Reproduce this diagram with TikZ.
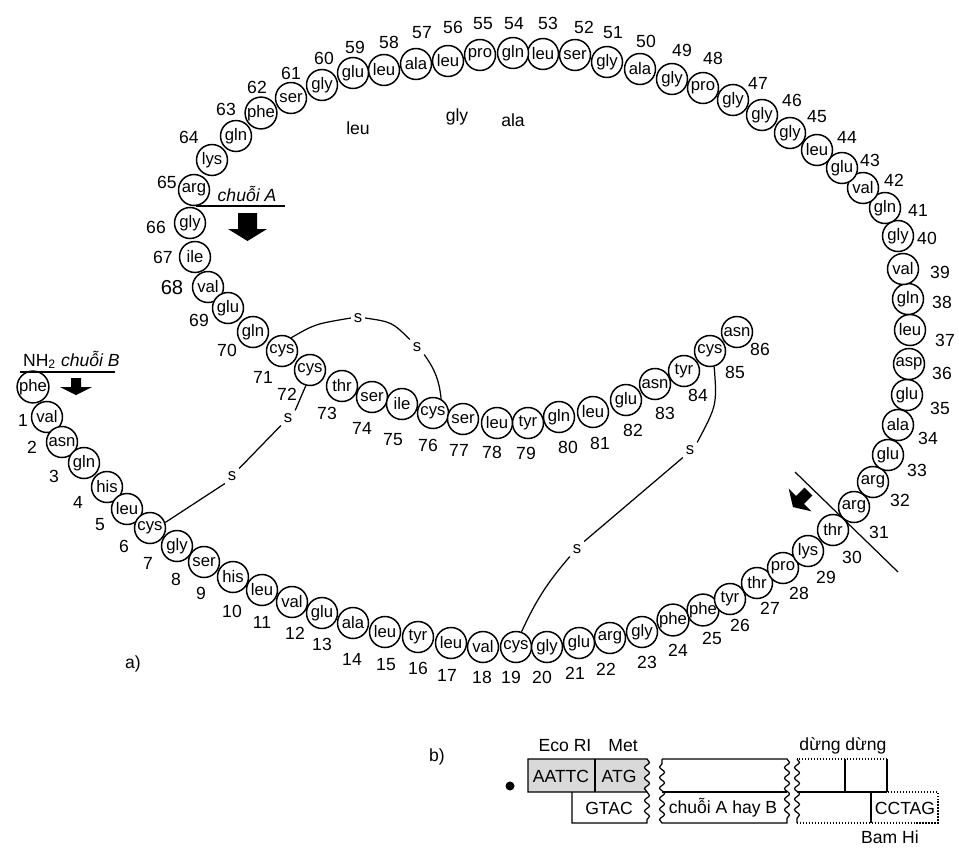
\documentclass[tikz,border=0pt]{standalone}
\usepackage{fontspec}
\setmainfont{Liberation Sans}
\usetikzlibrary{decorations.pathmorphing}

\begin{document}
\begin{tikzpicture}[
    x=0.02cm, y=-0.02cm,
    aa/.style={circle, draw, line width=0.85pt, fill=white, minimum size=0.62cm,
               inner sep=0pt, font=\fontsize{9.5}{10}\selectfont},
    num/.style={inner sep=1pt, font=\fontsize{10}{11}\selectfont},
    sl/.style={inner sep=1.5pt, font=\fontsize{9.5}{10}\selectfont},
    bond/.style={line width=0.7pt},
    cut/.style={line width=0.7pt},
    dbox/.style={line width=0.7pt},
    wavy/.style={decoration={snake, amplitude=1.4pt, segment length=6pt}},
    btxt/.style={inner sep=1pt, font=\fontsize{10}{11}\selectfont}
  ]
    \useasboundingbox (0,0) rectangle (959,852);

    %--- chain B ---
    \node[aa] (r1)  at (33,387)  {phe}; \node[num] (n1)  at (23,420)  {1};
    \node[aa] (r2)  at (47,417)  {val}; \node[num] (n2)  at (32,447)  {2};
    \node[aa] (r3)  at (62,442)  {asn}; \node[num] (n3)  at (54,476)  {3};
    \node[aa] (r4)  at (84,463)  {gln}; \node[num] (n4)  at (78,502)  {4};
    \node[aa] (r5)  at (107,487) {his}; \node[num] (n5)  at (100,525) {5};
    \node[aa] (r6)  at (127,509) {leu}; \node[num] (n6)  at (124,546) {6};
    \node[aa] (r7)  at (150,528) {cys}; \node[num] (n7)  at (148,563) {7};
    \node[aa] (r8)  at (177,546) {gly}; \node[num] (n8)  at (176,579) {8};
    \node[aa] (r9)  at (204,562) {ser}; \node[num] (n9)  at (201,593) {9};
    \node[aa] (r10) at (233,577) {his}; \node[num] (n10) at (232,611) {10};
    \node[aa] (r11) at (262,590) {leu}; \node[num] (n11) at (262,622) {11};
    \node[aa] (r12) at (292,602) {val}; \node[num] (n12) at (295,633) {12};
    \node[aa] (r13) at (322,613) {glu}; \node[num] (n13) at (322,644) {13};
    \node[aa] (r14) at (353,623) {ala}; \node[num] (n14) at (352,659) {14};
    \node[aa] (r15) at (385,632) {leu}; \node[num] (n15) at (386,665) {15};
    \node[aa] (r16) at (418,637) {tyr}; \node[num] (n16) at (418,668) {16};
    \node[aa] (r17) at (451,643) {leu}; \node[num] (n17) at (447,675) {17};
    \node[aa] (r18) at (483,647) {val}; \node[num] (n18) at (482,677) {18};
    \node[aa] (r19) at (516,647) {cys}; \node[num] (n19) at (511,677) {19};
    \node[aa] (r20) at (547,647) {gly}; \node[num] (n20) at (542,677) {20};
    \node[aa] (r21) at (579,643) {glu}; \node[num] (n21) at (575,673) {21};
    \node[aa] (r22) at (610,638) {arg}; \node[num] (n22) at (606,669) {22};
    \node[aa] (r23) at (642,632) {gly}; \node[num] (n23) at (647,662) {23};
    \node[aa] (r24) at (673,620) {phe}; \node[num] (n24) at (678,650) {24};
    \node[aa] (r25) at (703,610) {phe}; \node[num] (n25) at (712,638) {25};
    \node[aa] (r26) at (730,599) {tyr}; \node[num] (n26) at (740,625) {26};
    \node[aa] (r27) at (757,583) {thr}; \node[num] (n27) at (770,608) {27};
    \node[aa] (r28) at (783,568) {pro}; \node[num] (n28) at (799,593) {28};
    \node[aa] (r29) at (808,551) {lys}; \node[num] (n29) at (826,577) {29};
    \node[aa] (r30) at (833,530) {thr}; \node[num] (n30) at (852,557) {30};

    %--- C peptide ---
    \node[aa] (r31) at (854,507) {arg}; \node[num] (n31) at (879,532) {31};
    \node[aa] (r32) at (873,482) {arg}; \node[num] (n32) at (900,500) {32};
    \node[aa] (r33) at (888,455) {glu}; \node[num] (n33) at (917,470) {33};
    \node[aa] (r34) at (898,425) {ala}; \node[num] (n34) at (928,438) {34};
    \node[aa] (r35) at (907,395) {glu}; \node[num] (n35) at (940,408) {35};
    \node[aa] (r36) at (909,364) {asp}; \node[num] (n36) at (942,373) {36};
    \node[aa] (r37) at (910,330) {leu}; \node[num] (n37) at (945,340) {37};
    \node[aa] (r38) at (908,299) {gln}; \node[num] (n38) at (942,302) {38};
    \node[aa] (r39) at (903,269) {val}; \node[num] (n39) at (940,272) {39};
    \node[aa] (r40) at (898,236) {gly}; \node[num] (n40) at (927,238) {40};
    \node[aa] (r41) at (885,208) {gln}; \node[num] (n41) at (918,210) {41};
    \node[aa] (r42) at (863,188) {val}; \node[num] (n42) at (894,180) {42};
    \node[aa] (r43) at (842,168) {glu}; \node[num] (n43) at (870,160) {43};
    \node[aa] (r44) at (817,150) {leu}; \node[num] (n44) at (847,137) {44};
    \node[aa] (r45) at (790,133) {gly}; \node[num] (n45) at (817,117) {45};
    \node[aa] (r46) at (762,115) {gly}; \node[num] (n46) at (792,100) {46};
    \node[aa] (r47) at (733,100) {gly}; \node[num] (n47) at (758,83)  {47};
    \node[aa] (r48) at (703,88)  {pro}; \node[num] (n48) at (713,58)  {48};
    \node[aa] (r49) at (672,79)  {gly}; \node[num] (n49) at (682,50)  {49};
    \node[aa] (r50) at (640,69)  {ala}; \node[num] (n50) at (646,41)  {50};
    \node[aa] (r51) at (607,62)  {gly}; \node[num] (n51) at (613,33)  {51};
    \node[aa] (r52) at (575,55)  {ser}; \node[num] (n52) at (584,27)  {52};
    \node[aa] (r53) at (543,54)  {leu}; \node[num] (n53) at (548,23)  {53};
    \node[aa] (r54) at (513,53)  {gln}; \node[num] (n54) at (514,24)  {54};
    \node[aa] (r55) at (480,55)  {pro}; \node[num] (n55) at (483,24)  {55};
    \node[aa] (r56) at (448,61)  {leu}; \node[num] (n56) at (453,27)  {56};
    \node[aa] (r57) at (416,64)  {ala}; \node[num] (n57) at (422,33)  {57};
    \node[aa] (r58) at (384,70)  {leu}; \node[num] (n58) at (389,42)  {58};
    \node[aa] (r59) at (353,73)  {glu}; \node[num] (n59) at (355,47)  {59};
    \node[aa] (r60) at (322,85)  {gly}; \node[num] (n60) at (324,58)  {60};
    \node[aa] (r61) at (291,98)  {ser}; \node[num] (n61) at (291,73)  {61};
    \node[aa] (r62) at (261,113) {phe}; \node[num] (n62) at (257,87)  {62};
    \node[aa] (r63) at (236,136) {gln}; \node[num] (n63) at (226,109) {63};
    \node[aa] (r64) at (212,160) {lys}; \node[num] (n64) at (189,137) {64};
    \node[aa] (r65) at (194,190) {arg}; \node[num] (n65) at (167,182) {65};

    %--- chain A ---
    \node[aa] (r66) at (190,223) {gly}; \node[num] (n66) at (156,227) {66};
    \node[aa] (r67) at (195,257) {ile}; \node[num] (n67) at (163,257) {67};
    \node[aa] (r68) at (208,287) {val};
    \node[num, font=\fontsize{11.5}{12}\selectfont] (n68) at (172,288) {68};
    \node[aa] (r69) at (228,308) {glu}; \node[num] (n69) at (199,320) {69};
    \node[aa] (r70) at (253,332) {gln}; \node[num] (n70) at (227,350) {70};
    \node[aa] (r71) at (282,351) {cys}; \node[num] (n71) at (263,377) {71};
    \node[aa] (r72) at (310,370) {cys}; \node[num] (n72) at (287,394) {72};
    \node[aa] (r73) at (342,386) {thr}; \node[num] (n73) at (327,413) {73};
    \node[aa] (r74) at (372,397) {ser}; \node[num] (n74) at (362,428) {74};
    \node[aa] (r75) at (402,404) {ile}; \node[num] (n75) at (393,440) {75};
    \node[aa] (r76) at (433,413) {cys}; \node[num] (n76) at (428,445) {76};
    \node[aa] (r77) at (463,419) {ser}; \node[num] (n77) at (459,450) {77};
    \node[aa] (r78) at (497,423) {leu}; \node[num] (n78) at (492,452) {78};
    \node[aa] (r79) at (528,423) {tyr}; \node[num] (n79) at (526,453) {79};
    \node[aa] (r80) at (559,417) {gln}; \node[num] (n80) at (568,447) {80};
    \node[aa] (r81) at (593,412) {leu}; \node[num] (n81) at (600,443) {81};
    \node[aa] (r82) at (626,400) {glu}; \node[num] (n82) at (633,430) {82};
    \node[aa] (r83) at (655,384) {asn}; \node[num] (n83) at (665,413) {83};
    \node[aa] (r84) at (684,371) {tyr}; \node[num] (n84) at (698,395) {84};
    \node[aa] (r85) at (710,351) {cys}; \node[num] (n85) at (735,372) {85};
    \node[aa] (r86) at (737,332) {asn}; \node[num] (n86) at (760,349) {86};

    \node[num] (xleu) at (358,128) {leu};
    \node[num] (xgly) at (457,117) {gly};
    \node[num] (xala) at (513,120) {ala};

    %--- S-S bridges ---
    \node[sl] (s1a) at (358,318) {s};
    \node[sl] (s1b) at (417,347) {s};
    \node[sl] (s2a) at (288,418) {s};
    \node[sl] (s2b) at (232,476) {s};
    \node[sl] (s3a) at (690,450) {s};
    \node[sl] (s3b) at (577,549) {s};

    \draw[bond] (r71.55) .. controls (315,324) .. (s1a.west);
    \draw[bond] (s1a.east) .. controls (392,322) .. (s1b.north west);
    \draw[bond] (s1b.south east) to[bend left=15] (r76.60);
    \draw[bond] (r72.255) -- (s2a.north east);
    \draw[bond] (s2a.south west) -- (s2b.north east);
    \draw[bond] (s2b.south west) -- (r7.20);
    \draw[bond] (r85.-75) .. controls (717,405) .. (s3a.north east);
    \draw[bond] (s3a.south west) -- (s3b.north east);
    \draw[bond] (s3b.south west) to[bend right=8] (r19.70);

    %--- cuts and arrows ---
    \coordinate (cutA1) at (196,206);
    \coordinate (cutA2) at (285,206);
    \draw[cut] (cutA1) -- (cutA2);
    \node[num, font=\fontsize{10}{11}\selectfont\itshape] (chA) at (247,194) {chuỗi A};
    \fill (238,213) -- (257,213) -- (257,229) -- (267,229) -- (247.5,241)
          -- (228,229) -- (238,229) -- cycle;

    \coordinate (cutB1) at (20,372);
    \coordinate (cutB2) at (115,372);
    \draw[cut] (cutB1) -- (cutB2);
    \node[num, anchor=base west] (chB) at (21,366) {NH\textsubscript{2} \textit{chuỗi B}};
    \fill (71,378) -- (81,378) -- (81,387) -- (92,387) -- (76,395)
          -- (60,387) -- (71,387) -- cycle;

    \coordinate (cutC1) at (795,472);
    \coordinate (cutC2) at (898,572);
    \draw[cut] (cutC1) -- (cutC2);
    \fill[shift={(800,500)}, rotate=-45] (-5.5,-12) -- (5.5,-12) -- (5.5,0) -- (16,0)
          -- (0,10) -- (-16,0) -- (-5.5,0) -- cycle;

    \node[btxt] (lbla) at (133,664) {a)};
    \node[btxt] (lblb) at (437,757) {b)};

    %--- b) gene construct ---
    \filldraw[dbox, fill=gray!30] (528,759) -- (647,759) decorate[wavy]{-- (647,792)}
          -- (528,792) -- cycle;
    \draw[dbox] (595,759) -- (595,792);
    \draw[dbox] (647,792) decorate[wavy]{-- (647,823)} -- (572,823) -- (572,792);

    \draw[dbox] (662,759) -- (787,759) decorate[wavy]{-- (787,823)}
          -- (662,823) decorate[wavy]{-- (662,759)};
    \draw[dbox] (662,792) -- (787,792);

    \draw[dbox, densely dotted] (887,759) -- (797,759);
    \draw[dbox] (797,759) decorate[wavy]{-- (797,823)};
    \draw[dbox, densely dotted] (797,823) -- (938,823) -- (938,792) -- (887,792);
    \draw[dbox] (887,792) -- (887,759);
    \draw[dbox] (797,792) -- (887,792);
    \draw[dbox] (845,759) -- (845,792);
    \draw[dbox] (871,792) -- (871,823);

    \node[circle, fill, inner sep=0pt, minimum size=0.18cm] (dot) at (510,786) {};
    \node[btxt] (aattc) at (561,776) {AATTC};
    \node[btxt] (atg)   at (619,776) {ATG};
    \node[btxt] (gtac)  at (609,808) {GTAC};
    \node[btxt] (chAB)  at (723,808) {chuỗi A hay B};
    \node[btxt] (cctag) at (905,808) {CCTAG};
    \node[btxt] (ecori) at (565,746) {Eco RI};
    \node[btxt] (met)   at (623,746) {Met};
    \node[btxt] (stop)  at (843,746) {dừng dừng};
    \node[btxt] (bamhi) at (890,837) {Bam Hi};
  \end{tikzpicture}
\end{document}
